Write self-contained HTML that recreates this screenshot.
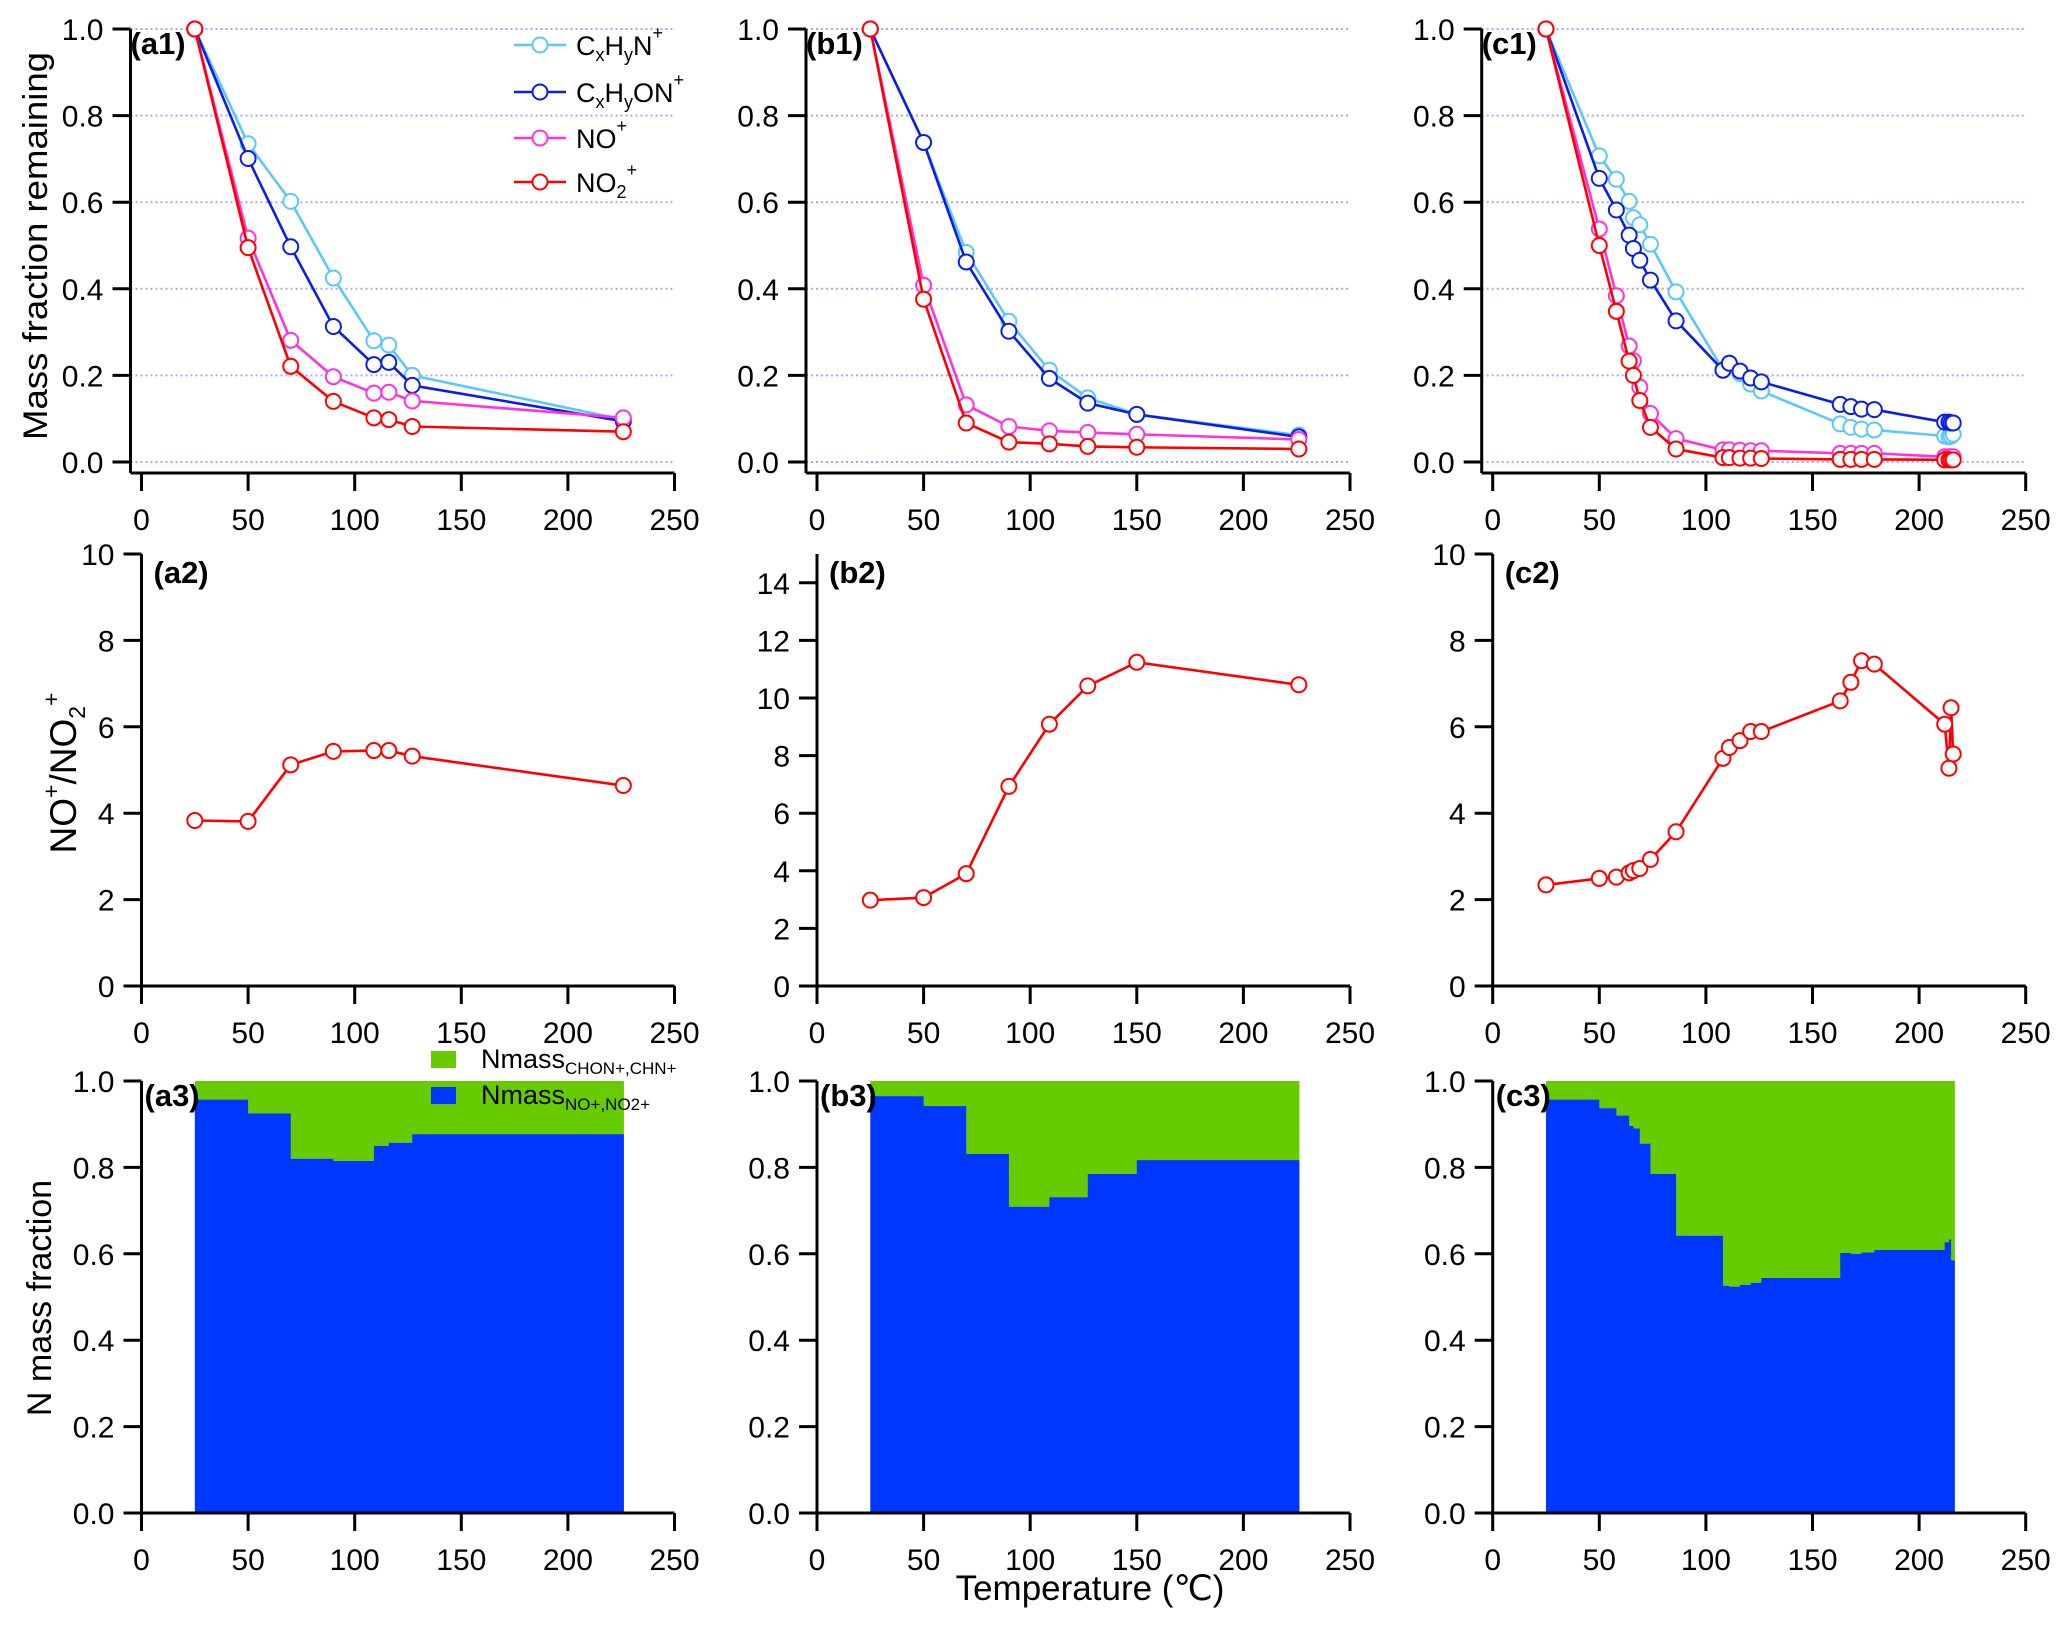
<!DOCTYPE html>
<html><head><meta charset="utf-8">
<style>
html,body{margin:0;padding:0;background:#fff;}
svg{display:block;font-family:"Liberation Sans","DejaVu Sans",sans-serif;}
</style></head>
<body>
<svg id="fig" width="2067" height="1627" viewBox="0 0 2067 1627" xmlns="http://www.w3.org/2000/svg"></svg>
<script>
// ---- data ----
const xsA = [25,50,70,90,109,116,127,226];
const xsB = [25,50,70,90,109,127,150,226];
const xsC = [25,50,58,64,66,69,74,86,108,111,116,121,126,163,168,173,179,212,214,215,216];

const a1_CHN = [1,0.735,0.602,0.425,0.28,0.27,0.2,0.098];
const a1_CHON = [1,0.701,0.497,0.313,0.225,0.23,0.177,0.094];
const a1_NO = [1,0.517,0.281,0.197,0.159,0.161,0.141,0.102];
const a1_NO2 = [1,0.495,0.221,0.14,0.102,0.098,0.082,0.07];

const b1_CHN = [1,0.738,0.484,0.325,0.212,0.148,0.11,0.062];
const b1_CHON = [1,0.738,0.462,0.302,0.193,0.136,0.11,0.058];
const b1_NO = [1,0.408,0.132,0.082,0.072,0.068,0.064,0.052];
const b1_NO2 = [1,0.376,0.09,0.046,0.042,0.036,0.034,0.03];

const c1_CHN = [1,0.707,0.653,0.602,0.564,0.548,0.503,0.393,0.213,0.228,0.204,0.18,0.164,0.088,0.08,0.076,0.074,0.06,0.058,0.06,0.064];
const c1_CHON = [1,0.655,0.582,0.524,0.493,0.466,0.42,0.326,0.212,0.228,0.21,0.194,0.185,0.133,0.128,0.122,0.121,0.092,0.092,0.09,0.09];
const c1_NO = [1,0.538,0.384,0.268,0.234,0.173,0.112,0.054,0.028,0.028,0.027,0.026,0.026,0.02,0.02,0.02,0.02,0.012,0.012,0.012,0.012];
const c1_NO2 = [1,0.5,0.348,0.233,0.2,0.142,0.08,0.03,0.01,0.01,0.009,0.009,0.008,0.006,0.006,0.006,0.006,0.005,0.005,0.005,0.005];

const a2_ratio = [3.83,3.81,5.12,5.43,5.45,5.45,5.32,4.64];
const b2_ratio = [2.98,3.07,3.9,6.93,9.09,10.42,11.24,10.46];
const c2_ratio = [2.34,2.49,2.52,2.62,2.67,2.72,2.93,3.57,5.27,5.52,5.68,5.89,5.89,6.6,7.03,7.53,7.45,6.06,5.04,6.44,5.37];

const a3_edges = [25,50,70,90,109,116,127,226];
const a3_frac = [0.957,0.925,0.82,0.815,0.85,0.857,0.877];
const b3_edges = [25,50,70,90,109,127,150,226];
const b3_frac = [0.965,0.942,0.831,0.709,0.731,0.785,0.817];
const c3_edges = [25,50,58,64,66,69,74,86,108,111,116,121,126,163,168,173,179,212,214,215,216.5];
const c3_frac = [0.957,0.937,0.92,0.896,0.89,0.855,0.785,0.642,0.526,0.524,0.528,0.533,0.544,0.602,0.6,0.603,0.609,0.627,0.633,0.585];

const xTicks = [0,50,100,150,200,250];
const y1Ticks = [0,0.2,0.4,0.6,0.8,1.0];
const y2Ticks = [0,2,4,6,8,10];
const y2bTicks = [0,2,4,6,8,10,12,14];
const y3Ticks = [0,0.2,0.4,0.6,0.8,1.0];

// ---- layout ----
const NS = "http://www.w3.org/2000/svg";
const svg = document.getElementById('fig');
const colX0 = [141.5, 817, 1492.7];
const XW = 533;
function mk(tag, attrs, parent){
  const e = document.createElementNS(NS, tag);
  for (const k in attrs) e.setAttribute(k, attrs[k]);
  (parent||svg).appendChild(e);
  return e;
}
function xs(col){ return v => colX0[col] + v*XW/250; }
function ys(zeroPx, topPx, maxV){ return v => zeroPx - v*(zeroPx-topPx)/maxV; }

function axes(col, Y, ticks, fmt, axisX, axisY, topPx, name, grid){
  const X = xs(col);
  const g = mk('g', {});
  
  
  if (grid){
    ticks.forEach(t=>{
      const l = mk('line',{x1:axisX,x2:X(250),y1:Y(t),y2:Y(t),stroke:'#a8a8f0','stroke-width':2,'stroke-dasharray':'2,3'},g);
      
      
    });
  }
  mk('line',{x1:axisX,x2:axisX,y1:axisY,y2:topPx,stroke:'#000','stroke-width':3},g);
  mk('line',{x1:axisX,x2:X(250),y1:axisY,y2:axisY,stroke:'#000','stroke-width':3},g);
  ticks.forEach(t=>{
    mk('line',{x1:axisX-18,x2:axisX,y1:Y(t),y2:Y(t),stroke:'#000','stroke-width':3},g);
    const tx = mk('text',{x:axisX-27,y:Y(t)+11,'text-anchor':'end','font-size':30,fill:'#000'},g);
    tx.textContent = fmt(t);
    
    
  });
  xTicks.forEach(t=>{
    mk('line',{x1:X(t),x2:X(t),y1:axisY,y2:axisY+18,stroke:'#000','stroke-width':3},g);
    const tx = mk('text',{x:X(t),y:axisY+57,'text-anchor':'middle','font-size':30,fill:'#000'},g);
    tx.textContent = t;
    
    
  });
}
function series(col, Y, xsArr, vals, color, name){
  const X = xs(col);
  const g = mk('g',{});
  
  
  const pts = xsArr.map((x,i)=>X(x).toFixed(1)+','+Y(vals[i]).toFixed(1)).join(' ');
  mk('polyline',{points:pts,fill:'none',stroke:color,'stroke-width':2.6},g);
  xsArr.forEach((x,i)=>{
    const c = mk('circle',{cx:X(x),cy:Y(vals[i]),r:7.5,fill:'#fff',stroke:color,'stroke-width':2},g);
    
    
  });
}
function steps(col, Y, edges, frac, name){
  const X = xs(col);
  const g = mk('g',{});
  
  
  frac.forEach((f,i)=>{
    const x1 = X(edges[i]), x2 = X(edges[i+1]);
    const gr = mk('rect',{x:x1,y:Y(1),width:x2-x1+0.6,height:Y(f)-Y(1),fill:'#66cc00'},g);
    
    
    const bl = mk('rect',{x:x1,y:Y(f),width:x2-x1+0.6,height:Y(0)-Y(f),fill:'#0037ff'},g);
    
    
  });
}
function label(x,y,t,name){
  const e = mk('text',{x:x,y:y,'font-size':31,'font-weight':'bold',fill:'#000'});
  e.textContent = t;
  
  
}

const C_CHN='#5cc8f8', C_CHON='#0a1ee8', C_NO='#ff33dd', C_NO2='#ff0000';
const f1 = t=>t.toFixed(1), f0 = t=>String(t);

// Row 1
const Y1 = ys(462, 29, 1);
const xsets = [xsA, xsB, xsC];
const r1 = [[a1_CHN,a1_CHON,a1_NO,a1_NO2],[b1_CHN,b1_CHON,b1_NO,b1_NO2],[c1_CHN,c1_CHON,c1_NO,c1_NO2]];
['a','b','c'].forEach((p,col)=>{
  axes(col, Y1, y1Ticks, f1, colX0[col]-11, 473, 29, 'panel-'+p+'1', true);
  series(col, Y1, xsets[col], r1[col][0], C_CHN, 'series-cxhyn-'+p+'1');
  series(col, Y1, xsets[col], r1[col][1], C_CHON, 'series-cxhyon-'+p+'1');
  series(col, Y1, xsets[col], r1[col][2], C_NO, 'series-no-'+p+'1');
  series(col, Y1, xsets[col], r1[col][3], C_NO2, 'series-no2-'+p+'1');
  label(colX0[col]-11, 54, '('+p+'1)', 'panel-label-'+p+'1');
});

// Row 2
const Y2 = ys(986, 554, 10);
const Y2b = ys(986, 554, 15);
axes(0, Y2, y2Ticks, f0, colX0[0], 986, 554, 'panel-a2', false);
series(0, Y2, xsA, a2_ratio, C_NO2, 'series-ratio-a2');
axes(1, Y2b, y2bTicks, f0, colX0[1], 986, 554, 'panel-b2', false);
series(1, Y2b, xsB, b2_ratio, C_NO2, 'series-ratio-b2');
axes(2, Y2, y2Ticks, f0, colX0[2], 986, 554, 'panel-c2', false);
series(2, Y2, xsC, c2_ratio, C_NO2, 'series-ratio-c2');
['a','b','c'].forEach((p,col)=>label(colX0[col]+12, 583, '('+p+'2)', 'panel-label-'+p+'2'));

// Row 3
const Y3 = ys(1513, 1081, 1);
steps(0, Y3, a3_edges, a3_frac, 'stacked-a3');
steps(1, Y3, b3_edges, b3_frac, 'stacked-b3');
steps(2, Y3, c3_edges, c3_frac, 'stacked-c3');
axes(0, Y3, y3Ticks, f1, colX0[0], 1513, 1081, 'panel-a3', false);
axes(1, Y3, y3Ticks, f1, colX0[1], 1513, 1081, 'panel-b3', false);
axes(2, Y3, y3Ticks, f1, colX0[2], 1513, 1081, 'panel-c3', false);
['a','b','c'].forEach((p,col)=>label(colX0[col]+3, 1106, '('+p+'3)', 'panel-label-'+p+'3'));
</script>

<script>
// static text: legends & axis titles
(function(){
const NS="http://www.w3.org/2000/svg";
const svg=document.getElementById('fig');
const g=document.createElementNS(NS,'g');
svg.appendChild(g);
g.innerHTML = `
<g font-size="27">
 <g>
  <line x1="514" x2="566" y1="45" y2="45" stroke="#5cc8f8" stroke-width="2.6"/><circle cx="540" cy="45" r="7.5" fill="#fff" stroke="#5cc8f8" stroke-width="2"/>
  <text x="576" y="55">C<tspan font-size="18" dy="6">x</tspan><tspan dy="-6">H</tspan><tspan font-size="18" dy="6">y</tspan><tspan dy="-6">N</tspan><tspan font-size="18" dy="-16">+</tspan></text>
 </g>
 <g>
  <line x1="514" x2="566" y1="92" y2="92" stroke="#0a1ee8" stroke-width="2.6"/><circle cx="540" cy="92" r="7.5" fill="#fff" stroke="#0a1ee8" stroke-width="2"/>
  <text x="576" y="102">C<tspan font-size="18" dy="6">x</tspan><tspan dy="-6">H</tspan><tspan font-size="18" dy="6">y</tspan><tspan dy="-6">ON</tspan><tspan font-size="18" dy="-16">+</tspan></text>
 </g>
 <g>
  <line x1="514" x2="566" y1="138" y2="138" stroke="#ff33dd" stroke-width="2.6"/><circle cx="540" cy="138" r="7.5" fill="#fff" stroke="#ff33dd" stroke-width="2"/>
  <text x="576" y="148">NO<tspan font-size="18" dy="-16">+</tspan></text>
 </g>
 <g>
  <line x1="514" x2="566" y1="182" y2="182" stroke="#ff0000" stroke-width="2.6"/><circle cx="540" cy="182" r="7.5" fill="#fff" stroke="#ff0000" stroke-width="2"/>
  <text x="576" y="192">NO<tspan font-size="18" dy="6">2</tspan><tspan font-size="18" dy="-22">+</tspan></text>
 </g>
</g>
<g font-size="27">
 <g>
  <rect x="431" y="1051" width="25" height="17" fill="#66cc00"/>
  <text x="481" y="1068">Nmass<tspan font-size="17" dy="6">CHON+,CHN+</tspan></text>
 </g>
 <g>
  <rect x="431" y="1087" width="25" height="17" fill="#0037ff"/>
  <text x="481" y="1104">Nmass<tspan font-size="17" dy="6">NO+,NO2+</tspan></text>
 </g>
</g>
<text transform="translate(47,246) rotate(-90)" text-anchor="middle" font-size="34" textLength="388" lengthAdjust="spacingAndGlyphs">Mass fraction remaining</text>
<text transform="translate(76,773) rotate(-90)" text-anchor="middle" font-size="37">NO<tspan font-size="23" dy="-17">+</tspan><tspan dy="17">/NO</tspan><tspan font-size="23" dy="9">2</tspan><tspan font-size="23" dy="-26">+</tspan></text>
<text transform="translate(51,1298) rotate(-90)" text-anchor="middle" font-size="34">N mass fraction</text>
<text x="1090" y="1600" text-anchor="middle" font-size="35">Temperature (℃)</text>
`;
})();
</script>
</body></html>
